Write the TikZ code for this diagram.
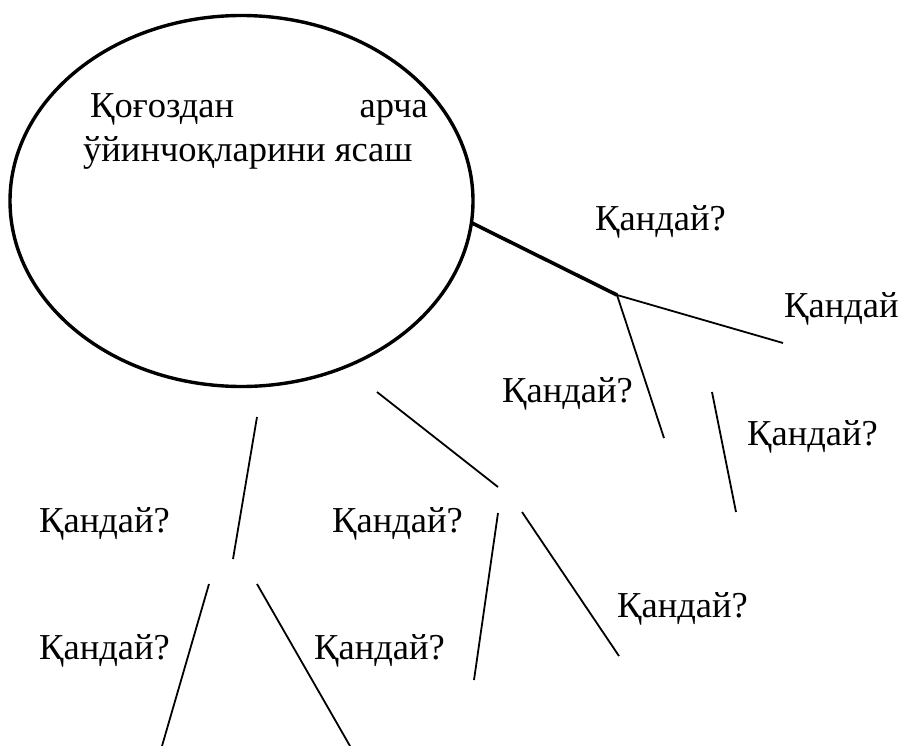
\documentclass[tikz,border=0pt]{standalone}
\usepackage{fontspec}
\setmainfont{Liberation Serif}
\usetikzlibrary{shapes.geometric}
\begin{document}
\begin{tikzpicture}[x=1pt,y=-1pt,
  lbl/.style={inner sep=0pt,anchor=base west,font=\fontsize{36.5}{40}\selectfont},
  thin/.style={line width=1.8pt},
  thick/.style={line width=3.6pt}]
\useasboundingbox (0,0) rectangle (904,746);
% main ellipse
\node[draw,ellipse,line width=3.4pt,minimum width=463,minimum height=371,inner sep=0pt] (E) at (241.5,201) {};
\node[lbl] (t1) at (90,118) {Қоғоздан};
\node[lbl,anchor=base east] (t2) at (428,118) {арча};
\node[lbl] (t3) at (83,162) {ўйинчоқларини ясаш};
% coordinates
\coordinate (a0) at (472,223);
\coordinate (j1) at (617,295);
\coordinate (a1) at (783,343);
\coordinate (a2) at (664,438);
\coordinate (b1) at (712,392);
\coordinate (b2) at (736,512);
\coordinate (c1) at (377,392);
\coordinate (c2) at (498,487);
\coordinate (d1) at (257,417);
\coordinate (d2) at (233,559);
\coordinate (e1) at (498,513);
\coordinate (e2) at (474,680);
\coordinate (f1) at (522,512);
\coordinate (f2) at (619,656);
\coordinate (g1) at (209,584);
\coordinate (g2) at (162,746);
\coordinate (h1) at (257,584);
\coordinate (h2) at (350,746);
\draw[thick] (a0) -- (j1);
\draw[thin] (j1) -- (a1);
\draw[thin] (j1) -- (a2);
\draw[thin] (b1) -- (b2);
\draw[thin] (c1) -- (c2);
\draw[thin] (d1) -- (d2);
\draw[thin] (e1) -- (e2);
\draw[thin] (f1) -- (f2);
\draw[thin] (g1) -- (g2);
\draw[thin] (h1) -- (h2);
% labels
\node[lbl] (q1) at (595,230) {Қандай?};
\node[lbl] (q2) at (784,317) {Қандай};
\node[lbl] (q3) at (502,402) {Қандай?};
\node[lbl] (q4) at (747,445) {Қандай?};
\node[lbl] (q5) at (39,532) {Қандай?};
\node[lbl] (q6) at (332,532) {Қандай?};
\node[lbl] (q7) at (617,617) {Қандай?};
\node[lbl] (q8) at (39,659) {Қандай?};
\node[lbl] (q9) at (314,659) {Қандай?};
\end{tikzpicture}
\end{document}
